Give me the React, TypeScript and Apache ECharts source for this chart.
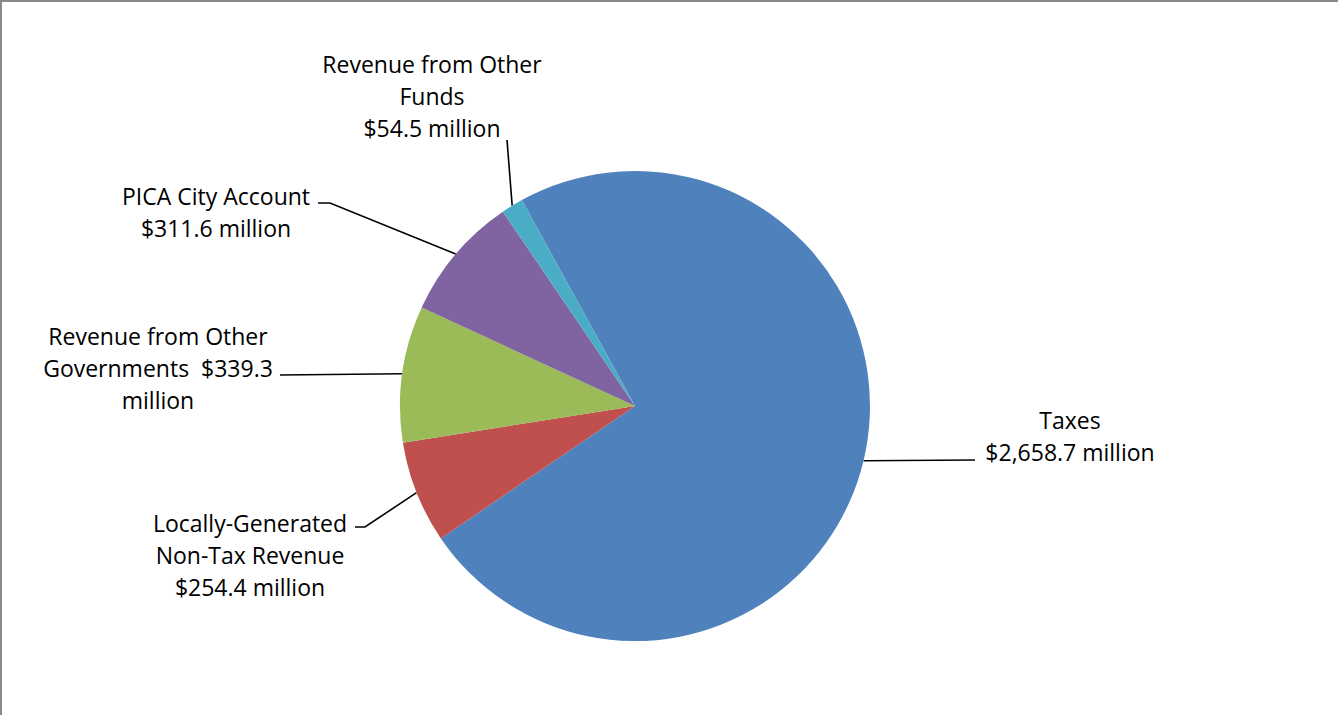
import React, { useEffect, useRef } from "react";
import * as echarts from "echarts";

const categories = [
  "Taxes",
  "Locally-Generated Non-Tax Revenue",
  "Revenue from Other Governments",
  "PICA City Account",
  "Revenue from Other Funds",
];
const values = [2658.7, 254.4, 339.3, 311.6, 54.5];
// label templates ({v} is replaced with the formatted value)
const labelTemplates = [
  "Taxes\n{v} million",
  "Locally-Generated\nNon-Tax Revenue\n{v} million",
  "Revenue from Other\nGovernments  {v}\nmillion",
  "PICA City Account\n{v} million",
  "Revenue from Other\nFunds\n{v} million",
];
const colors = ["#4F81BD", "#C0504D", "#9BBB59", "#8064A2", "#4BACC6"];

// label placement (text block centres) and leader-line anchor points on the label side
const labelCenters = [
  [1070, 436],
  [250, 555],
  [158, 368],
  [216, 212],
  [432, 96],
];
const lineAnchors = [
  [[975, 460]],
  [[355, 527], [365, 527]],
  [[280, 375]],
  [[318, 203], [330, 203]],
  [[507, 140]],
];

const CENTER = [635, 406];
const RADIUS = 235;
const START_ANGLE = 118.8;

function fmt(v: number) {
  return "$" + v.toLocaleString("en-US", { minimumFractionDigits: 1, maximumFractionDigits: 1 });
}

function midPoint(i: number) {
  const total = values.reduce((a, b) => a + b, 0);
  let before = 0;
  for (let k = 0; k < i; k++) before += values[k];
  const mid = START_ANGLE - ((before + values[i] / 2) / total) * 360;
  const rad = (mid * Math.PI) / 180;
  return [CENTER[0] + RADIUS * Math.cos(rad), CENTER[1] - RADIUS * Math.sin(rad)];
}

export default function App() {
  const ref = useRef<HTMLDivElement>(null);
  useEffect(() => {
    document.body.style.margin = "0";
    if (!ref.current) return;
    const chart = echarts.init(ref.current, null, { renderer: "svg" });
    chart.setOption({
      animation: false,
      backgroundColor: "#ffffff",
      graphic: [
        { type: "line", shape: { x1: 0, y1: 1, x2: 1338, y2: 1 }, style: { stroke: "#898989", lineWidth: 2 } },
        { type: "line", shape: { x1: 1, y1: 0, x2: 1, y2: 715 }, style: { stroke: "#898989", lineWidth: 2 } },
      ],
      series: [
        {
          type: "pie",
          center: CENTER,
          radius: RADIUS,
          startAngle: START_ANGLE,
          clockwise: true,
          avoidLabelOverlap: false,
          silent: true,
          emphasis: { disabled: true },
          data: categories.map((name, i) => ({
            name,
            value: values[i],
            itemStyle: { color: colors[i] },
          })),
          label: {
            show: true,
            position: "outside",
            formatter: (p: any) => labelTemplates[p.dataIndex].replace("{v}", fmt(p.value)),
            fontFamily: "'Open Sans', Lato, sans-serif",
            fontSize: 23,
            lineHeight: 32,
            color: "#000",
            align: "center",
          },
          labelLine: {
            show: true,
            length: 10,
            length2: 10,
            smooth: false,
            lineStyle: { color: "#000", width: 1.6 },
          },
          labelLayout: (params: any) => {
            const i = params.dataIndex;
            const pts = params.labelLinePoints;
            const arc = pts && pts[0] ? pts[0] : midPoint(i);
            return {
              x: labelCenters[i][0],
              y: labelCenters[i][1],
              align: "center",
              verticalAlign: "middle",
              labelLinePoints: [...lineAnchors[i], arc],
            };
          },
        },
      ],
    });
    return () => chart.dispose();
  }, []);
  return <div ref={ref} style={{ width: 1338, height: 715 }} />;
}
